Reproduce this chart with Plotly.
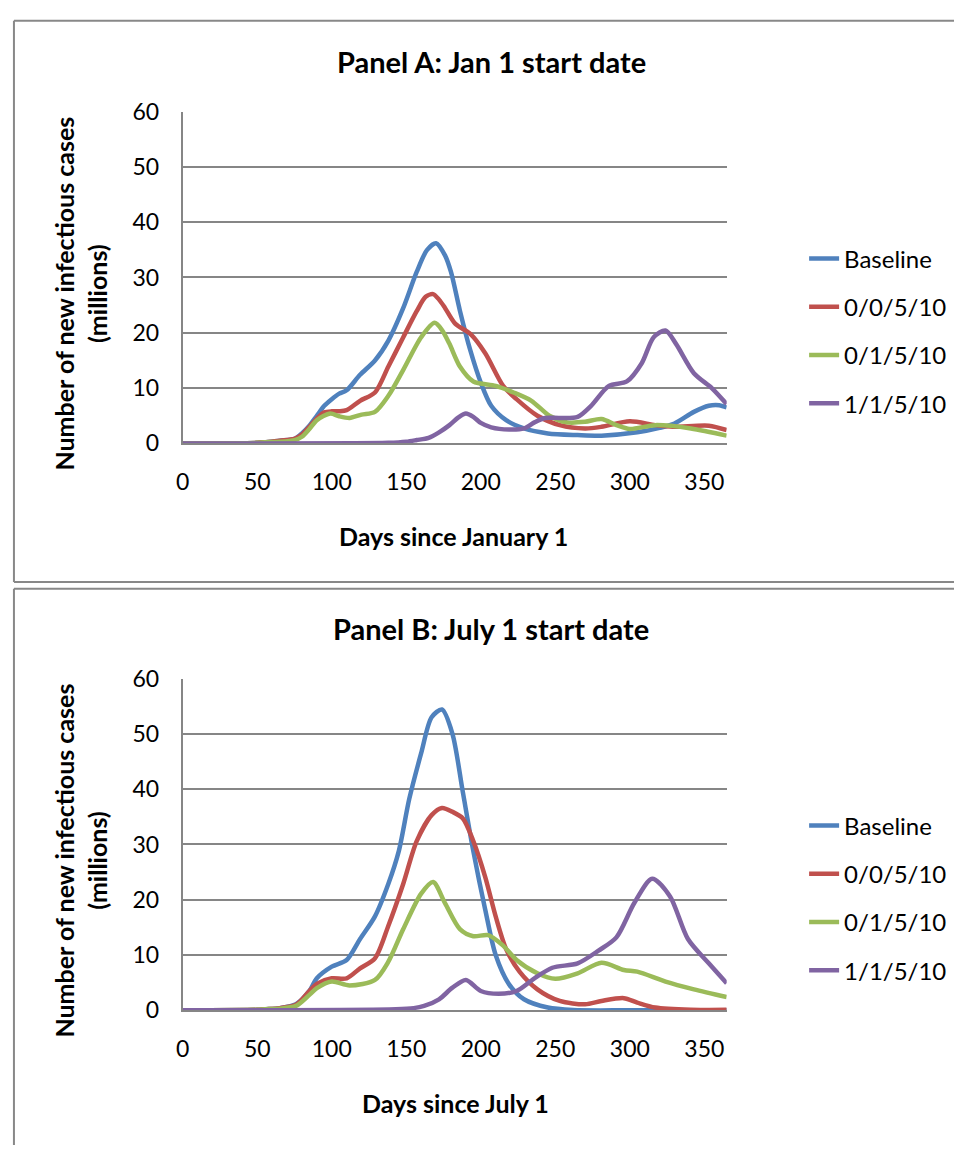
import plotly.graph_objects as go

W, H = 954, 1158

series_names = ["Baseline", "0/0/5/10", "0/1/5/10", "1/1/5/10"]
colors = ["#4F81BD", "#C0504D", "#9BBB59", "#8064A2"]

x_ticks = [0, 50, 100, 150, 200, 250, 300, 350]
y_ticks = [0, 10, 20, 30, 40, 50, 60]

# ---------------- Panel A: Jan 1 start date ----------------
a_base_days = [0, 50, 55, 65, 75, 80, 85, 90, 95, 100, 105, 110, 119, 129, 138, 148, 157, 164, 170, 176, 180, 186, 193, 200, 207, 217, 229, 245, 265, 281, 305, 320, 330, 343, 353, 360, 365]
a_base_vals = [0, 0.1, 0.2, 0.5, 0.8, 1.8, 3.2, 5.0, 6.8, 8.0, 9.0, 9.6, 12.4, 15.0, 18.6, 24.5, 31.0, 35.0, 36.2, 34.0, 31.0, 24.0, 16.8, 11.0, 6.8, 4.2, 2.7, 1.8, 1.5, 1.4, 2.0, 2.8, 3.6, 5.7, 6.8, 6.9, 6.5]

a_r0_days = [0, 50, 55, 65, 75, 80, 85, 90, 95, 100, 105, 110, 119, 129, 138, 148, 157, 163, 168, 172, 176, 183, 193, 203, 215, 224, 238, 253, 270, 281, 300, 317, 329, 353, 365]
a_r0_vals = [0, 0.1, 0.2, 0.5, 0.8, 1.6, 3.0, 4.5, 5.6, 5.8, 5.8, 6.0, 7.7, 9.2, 13.9, 19.2, 23.9, 26.5, 27.0, 26.0, 24.5, 21.6, 19.8, 16.3, 10.4, 8.0, 5.0, 3.3, 2.7, 3.0, 4.0, 3.3, 3.0, 3.2, 2.4]

a_r1_days = [0, 50, 55, 65, 75, 80, 85, 90, 99, 105, 112, 120, 129, 138, 148, 160, 169, 174, 179, 186, 195, 210, 222, 234, 246, 258, 270, 281, 291, 300, 317, 341, 365]
a_r1_vals = [0, 0.1, 0.2, 0.3, 0.6, 1.2, 2.6, 4.2, 5.4, 4.9, 4.6, 5.2, 5.7, 8.6, 13.3, 19.2, 21.8, 20.5, 18.0, 13.9, 11.2, 10.4, 9.2, 7.7, 5.0, 3.8, 3.9, 4.4, 3.3, 2.6, 3.3, 2.7, 1.4]

a_r2_days = [0, 138, 150, 157, 165, 172, 179, 185, 190, 195, 200, 207, 219, 229, 236, 243, 253, 265, 274, 286, 298, 308, 316, 324, 331, 343, 355, 365]
a_r2_vals = [0, 0.1, 0.3, 0.6, 1.0, 2.0, 3.3, 4.7, 5.4, 4.8, 3.7, 2.9, 2.5, 2.7, 3.8, 4.6, 4.6, 4.8, 6.8, 10.4, 11.2, 14.5, 19.2, 20.4, 18.0, 12.7, 10.0, 7.1]

# ---------------- Panel B: July 1 start date ----------------
b_base_days = [0, 50, 55, 65, 76, 85, 90, 100, 110, 119, 129, 138, 145, 152, 160, 167, 174, 181, 188, 195, 203, 210, 219, 229, 245, 262, 300, 365]
b_base_vals = [0, 0.1, 0.2, 0.4, 1.1, 3.5, 5.8, 7.9, 9.1, 12.9, 17.0, 22.9, 28.8, 38.2, 46.5, 53.0, 54.4, 50.0, 39.4, 28.8, 18.2, 10.0, 4.7, 2.0, 0.5, 0.05, 0, 0]

b_r0_days = [0, 50, 55, 65, 76, 85, 90, 100, 110, 119, 129, 138, 148, 157, 167, 174, 181, 188, 195, 203, 210, 217, 226, 238, 253, 270, 281, 296, 305, 317, 341, 365]
b_r0_vals = [0, 0.1, 0.2, 0.4, 1.0, 3.5, 4.8, 5.8, 5.8, 7.6, 9.4, 15.3, 22.9, 30.6, 35.3, 36.6, 35.9, 34.7, 30.6, 24.1, 17.0, 11.1, 7.0, 3.8, 1.7, 1.1, 1.7, 2.2, 1.4, 0.5, 0.1, 0.1]

b_r1_days = [0, 50, 55, 65, 76, 85, 90, 100, 112, 129, 138, 148, 160, 168, 176, 186, 195, 205, 215, 224, 238, 250, 265, 281, 296, 305, 324, 343, 365]
b_r1_vals = [0, 0.1, 0.2, 0.3, 0.8, 2.8, 4.0, 5.2, 4.5, 5.5, 8.8, 14.7, 21.1, 23.2, 19.4, 14.7, 13.4, 13.6, 11.7, 9.1, 6.7, 5.7, 6.7, 8.6, 7.3, 7.0, 5.2, 3.8, 2.4]

b_r2_days = [0, 143, 155, 162, 172, 181, 190, 200, 212, 224, 236, 248, 265, 279, 291, 303, 315, 327, 339, 353, 365]
b_r2_vals = [0, 0.2, 0.4, 0.8, 2.0, 4.1, 5.5, 3.5, 3.0, 3.5, 5.8, 7.7, 8.5, 10.8, 13.2, 19.4, 23.8, 20.6, 12.9, 8.5, 4.9]

panel_a = [(a_base_days, a_base_vals), (a_r0_days, a_r0_vals), (a_r1_days, a_r1_vals), (a_r2_days, a_r2_vals)]
panel_b = [(b_base_days, b_base_vals), (b_r0_days, b_r0_vals), (b_r1_days, b_r1_vals), (b_r2_days, b_r2_vals)]

FONT = "Lato"
fig = go.Figure()

for i, (d, v) in enumerate(panel_a):
    fig.add_trace(go.Scatter(x=d, y=v, mode="lines", name=series_names[i],
                             line=dict(color=colors[i], width=4.5, shape="spline", smoothing=0.8),
                             xaxis="x", yaxis="y", legend="legend", legendgroup="a%d" % i))
for i, (d, v) in enumerate(panel_b):
    fig.add_trace(go.Scatter(x=d, y=v, mode="lines", name=series_names[i],
                             line=dict(color=colors[i], width=4.5, shape="spline", smoothing=0.8),
                             xaxis="x2", yaxis="y2", legend="legend2", legendgroup="b%d" % i))

def px(sx):
    return sx / W

def py(sy):
    return 1 - sy / H

x_dom = [px(177), px(725)]
axis_common = dict(showline=True, linecolor="#868686", linewidth=2, zeroline=False,
                   tickfont=dict(family=FONT, size=23, color="black"), ticks="")

leg_font = dict(family=FONT, size=24, color="black")
fig.update_layout(
    width=W, height=H, margin=dict(l=0, r=0, t=0, b=0),
    paper_bgcolor="white", plot_bgcolor="white", showlegend=True,
    xaxis=dict(domain=x_dom, range=[0, 365], tickvals=x_ticks, showgrid=False,
               anchor="y", ticklabelstandoff=17, **axis_common),
    yaxis=dict(domain=[py(439), py(99)], range=[0, 60], tickvals=y_ticks, showgrid=True,
               gridcolor="#868686", gridwidth=2, anchor="x", ticklabelstandoff=17, **axis_common),
    xaxis2=dict(domain=x_dom, range=[0, 365], tickvals=x_ticks, showgrid=False,
                anchor="y2", ticklabelstandoff=17, **axis_common),
    yaxis2=dict(domain=[py(1020), py(680)], range=[0, 60], tickvals=y_ticks, showgrid=True,
                gridcolor="#868686", gridwidth=2, anchor="x2", ticklabelstandoff=17, **axis_common),
    legend=dict(x=px(803), y=py(227), xanchor="left", yanchor="top", traceorder="grouped",
                tracegroupgap=14, font=leg_font, bgcolor="rgba(0,0,0,0)"),
    legend2=dict(x=px(803), y=py(808), xanchor="left", yanchor="top", traceorder="grouped",
                 tracegroupgap=14, font=leg_font, bgcolor="rgba(0,0,0,0)"),
)

# panel frames (open on the right / bottom where they leave the picture)
frame = dict(color="#888888", width=2)
for (x0, y0, x1, y1) in [(7, 6, 954, 6), (7, 6, 7, 581), (7, 581, 954, 581),
                         (7, 588, 954, 588), (7, 588, 7, 1158)]:
    fig.add_shape(type="line", xref="paper", yref="paper", x0=px(x0), y0=py(y0), x1=px(x1), y1=py(y1),
                  line=frame, layer="below")

title_font = dict(family=FONT, size=29, color="black")
axt_font = dict(family=FONT, size=25, color="black")
ann = [
    dict(text="<b>Panel A: Jan 1 start date</b>", x=px(488), y=py(48), font=title_font),
    dict(text="<b>Panel B: July 1 start date</b>", x=px(488), y=py(629), font=title_font),
    dict(text="<b>Days since January 1</b>", x=px(450), y=py(534), font=axt_font),
    dict(text="<b>Days since July 1</b>", x=px(452), y=py(1115), font=axt_font),
    dict(text="<b>Number of new infectious cases<br>(millions)</b>", x=px(74), y=py(285), textangle=-90,
         font=axt_font),
    dict(text="<b>Number of new infectious cases<br>(millions)</b>", x=px(74), y=py(866), textangle=-90,
         font=axt_font),
]
for a in ann:
    fig.add_annotation(xref="paper", yref="paper", showarrow=False, xanchor="center", yanchor="middle", **a)

fig.write_html("out.html")
